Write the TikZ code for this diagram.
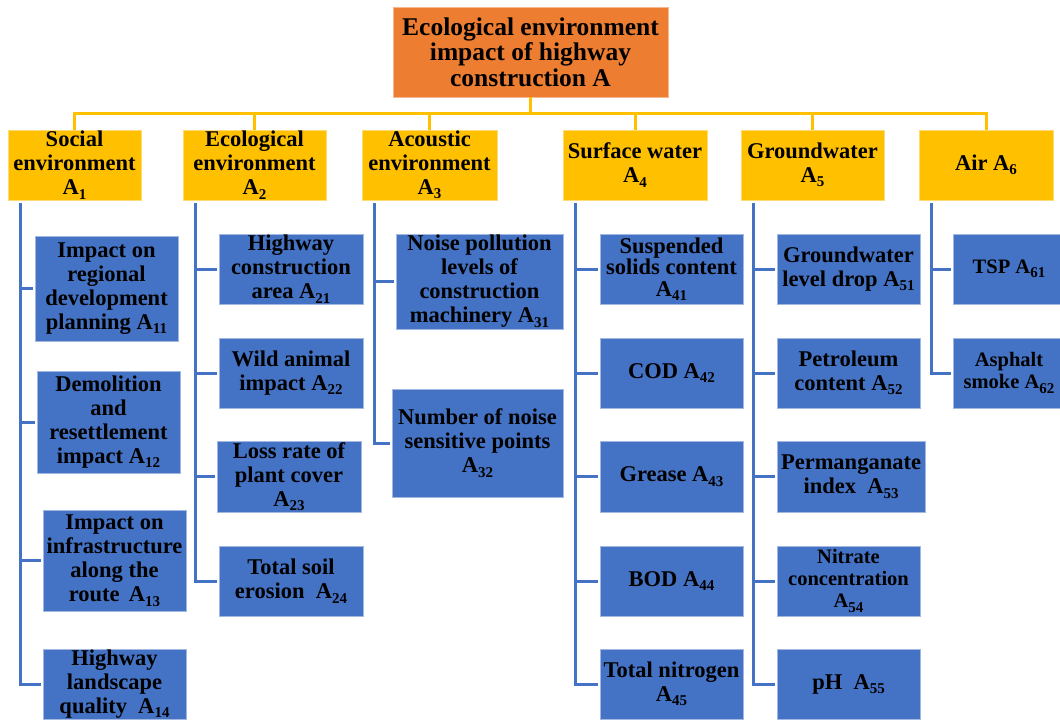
\documentclass[tikz,border=0pt]{standalone}
\usepackage{fontspec}
\setmainfont{Liberation Serif}
\definecolor{orng}{HTML}{ED7D31}
\definecolor{ylw}{HTML}{FFC000}
\definecolor{blu}{HTML}{4472C4}
\newcommand\mysub[1]{\raisebox{-4.5pt}{\fontsize{15pt}{15pt}\selectfont #1}}
\tikzset{
 base/.style={inner sep=0pt, align=center, font=\bfseries\fontsize{22.5pt}{24pt}\selectfont},
 topbox/.style={base, fill=orng, draw=orng!55!white, line width=0.8pt, font=\bfseries\fontsize{25.5pt}{25.5pt}\selectfont},
 catbox/.style={base, fill=ylw, draw=ylw!55!white, line width=0.8pt, minimum height=70pt},
 leaf/.style={base, fill=blu, draw=blu!50!white, line width=0.8pt, minimum width=143pt, minimum height=70pt},
 small/.style={font=\bfseries\fontsize{20.5pt}{22pt}\selectfont},
 yline/.style={draw=ylw, line width=3pt},
 bline/.style={draw=blu, line width=3pt, shorten >=2pt},
}
\begin{document}
\begin{tikzpicture}[x=1pt,y=-1pt]
\useasboundingbox (0,0) rectangle (1060,720);
% root
\node[topbox, minimum width=275pt, minimum height=90pt] (A) at (530.5,52) {Ecological environment\\impact of highway\\construction A};
% level 1
\node[catbox, minimum width=133pt] (A1) at (74.5,165) {Social\\environment\\A\mysub{1}};
\node[catbox, minimum width=143pt] (A2) at (254.5,165) {Ecological\\environment\\A\mysub{2}};
\node[catbox, minimum width=135pt] (A3) at (429.5,165) {Acoustic\\environment\\A\mysub{3}};
\node[catbox, minimum width=144pt] (A4) at (635,165) {Surface water\\A\mysub{4}};
\node[catbox, minimum width=143pt] (A5) at (812.5,165) {Groundwater\\A\mysub{5}};
\node[catbox, minimum width=134pt] (A6) at (986,165) {Air A\mysub{6}};
% column 1
\node[leaf, minimum height=105pt] (A11) at (106.5,288.5) {Impact on\\regional\\development\\planning A\mysub{11}};
\node[leaf, minimum height=102pt] (A12) at (108.5,422) {Demolition\\and\\resettlement\\impact A\mysub{12}};
\node[leaf, minimum height=101pt] (A13) at (114.5,560.5) {Impact on\\infrastructure\\along the\\route \,A\mysub{13}};
\node[leaf] (A14) at (114.5,684) {Highway\\landscape\\quality \ A\mysub{14}};
% column 2
\node[leaf, minimum width=144pt] (A21) at (291,269) {Highway\\construction\\area A\mysub{21}};
\node[leaf, minimum width=144pt] (A22) at (291,373) {Wild animal\\impact A\mysub{22}};
\node[leaf, minimum width=144pt, minimum height=71pt] (A23) at (289,476.5) {Loss rate of\\plant cover\\A\mysub{23}};
\node[leaf, minimum width=144pt] (A24) at (291,581) {Total soil\\erosion \ A\mysub{24}};
% column 3
\node[leaf, minimum width=167pt, minimum height=95pt] (A31) at (479.5,281.5) {Noise pollution\\levels of\\construction\\machinery A\mysub{31}};
\node[leaf, minimum width=171pt, minimum height=108pt] (A32) at (477.5,443) {Number of noise\\sensitive points\\A\mysub{32}};
% column 4
\node[leaf, font=\bfseries\fontsize{22.5pt}{21.5pt}\selectfont] (A41) at (671.5,269) {Suspended\\solids content\\A\mysub{41}};
\node[leaf] (A42) at (671.5,373) {COD A\mysub{42}};
\node[leaf, minimum height=71pt] (A43) at (671.5,476.5) {Grease A\mysub{43}};
\node[leaf] (A44) at (671.5,581) {BOD A\mysub{44}};
\node[leaf] (A45) at (671.5,684) {Total nitrogen\\A\mysub{45}};
% column 5
\node[leaf] (A51) at (848.5,269) {Groundwater\\level drop A\mysub{51}};
\node[leaf] (A52) at (848.5,373) {Petroleum\\content A\mysub{52}};
\node[leaf, minimum width=148pt, minimum height=71pt] (A53) at (851,476.5) {Permanganate\\index \ A\mysub{53}};
\node[leaf, small] (A54) at (848.5,581) {Nitrate\\concentration\\A\mysub{54}};
\node[leaf] (A55) at (848.5,684) {pH \ A\mysub{55}};
% column 6
\node[leaf, small, minimum width=112pt] (A61) at (1009,269) {TSP A\mysub{61}};
\node[leaf, small, minimum width=112pt] (A62) at (1009,373) {Asphalt\\smoke A\mysub{62}};
% yellow connectors
\foreach \c in {A1,A2,A3,A4,A5,A6}
  \draw[yline] (\c.north) -- ++(0,-16) -| (A.south);
% blue connectors
\foreach \p/\kids in {A1/{A11,A12,A13,A14},A2/{A21,A22,A23,A24},A3/{A31,A32},A4/{A41,A42,A43,A44,A45},A5/{A51,A52,A53,A54,A55},A6/{A61,A62}}
  \foreach \k in \kids
    \draw[bline] ([xshift=12.5pt,yshift=-3pt]\p.south west) |- (\k.west);
\end{tikzpicture}
\end{document}
